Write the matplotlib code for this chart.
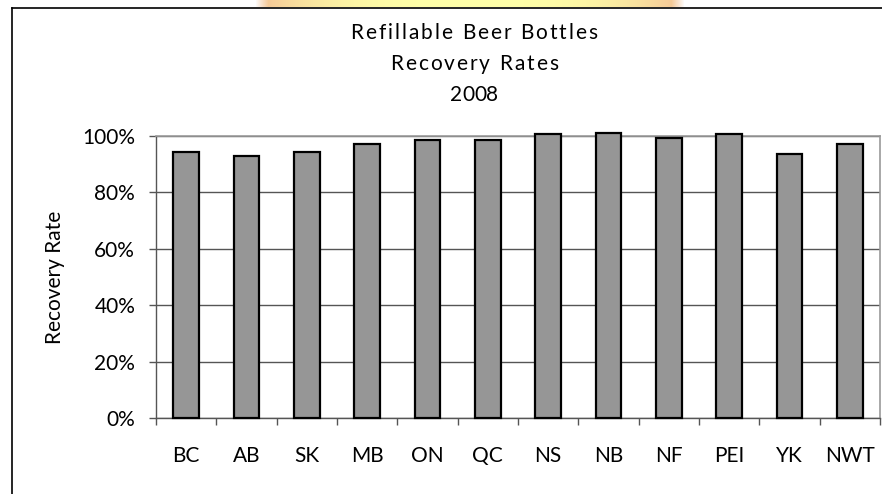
import numpy as np
import matplotlib
matplotlib.use('Agg')
import matplotlib.pyplot as plt
from matplotlib.lines import Line2D
from matplotlib.ticker import PercentFormatter

plt.rcParams['font.family'] = ['Lato', 'DejaVu Sans']

# data
provinces = ['BC', 'AB', 'SK', 'MB', 'ON', 'QC', 'NS', 'NB', 'NF', 'PEI', 'YK', 'NWT']
recovery = [0.944, 0.929, 0.944, 0.973, 0.986, 0.986, 1.007, 1.012, 0.993, 1.007, 0.937, 0.973]
yticks = [0, 0.2, 0.4, 0.6, 0.8, 1.0]
title_lines = ['Refillable Beer Bottles', 'Recovery Rates', '2008']
title_spacing = [2.0, 2.0, 0.0]  # extra px between letters, like the original

W, H = 882, 494
fig = plt.figure(figsize=(W / 100, H / 100), dpi=100)

# blurred banner at the very top
bx = fig.add_axes([255 / W, 1 - 7 / H, (685 - 255) / W, 7 / H])
g = np.linspace(-1, 1, 400)
w = np.clip(np.abs(g) ** 3, 0, 1)
c_edge = np.array([0.95, 0.75, 0.58])
c_mid = np.array([1.0, 1.0, 0.66])
col = c_mid[None, :] * (1 - w[:, None]) + c_edge[None, :] * w[:, None]
fade = np.clip((1 - np.abs(g)) / 0.06, 0, 1)[:, None]
col = col * fade + (1 - fade)
bx.imshow(col[None, :, :], aspect='auto', extent=[0, 1, 0, 1])
bx.axis('off')

# outer chart border
fig.add_artist(Line2D([12 / W, 12 / W], [0, 1 - 8 / H], color='black', lw=1.2, transform=fig.transFigure))
fig.add_artist(Line2D([12 / W, 1], [1 - 8 / H, 1 - 8 / H], color='black', lw=1.2, transform=fig.transFigure))

ax = fig.add_axes([156 / W, 76 / H, (880 - 156) / W, (418 - 136) / H])
x = np.arange(len(provinces))
ax.bar(x, recovery, width=0.43, color='#969696', edgecolor='black', linewidth=1.6, zorder=3, clip_on=False)

ax.set_xlim(-0.5, len(provinces) - 0.5)
ax.set_ylim(0, 1.0)
ax.set_yticks(yticks)
ax.yaxis.set_major_formatter(PercentFormatter(1.0, decimals=0))
ax.grid(axis='y', color='#555555', linewidth=1.0, zorder=0)
ax.tick_params(axis='y', direction='out', length=5, width=1, color='#555555', pad=10, labelsize=15)

ax.set_xticks(np.arange(-0.5, len(provinces), 1.0))
ax.set_xticklabels([])
ax.tick_params(axis='x', which='major', direction='out', length=5, width=1, color='#555555')
ax.set_xticks(x, minor=True)
ax.set_xticklabels(provinces, minor=True)
ax.tick_params(axis='x', which='minor', length=0, pad=20, labelsize=15)

for s in ['top', 'right']:
    ax.spines[s].set_color('#9a9a9a')
    ax.spines[s].set_linewidth(1.2)
for s in ['left', 'bottom']:
    ax.spines[s].set_color('#555555')
    ax.spines[s].set_linewidth(1.0)

ax.set_ylabel('Recovery Rate', fontsize=15, labelpad=12)

# title, letter by letter so the spacing can be widened
renderer = fig.canvas.get_renderer()
cx = 474
for i, line in enumerate(title_lines):
    y = 1 - (33 + 31 * i) / H
    sp = title_spacing[i]
    probe = fig.text(0, 0, line, fontsize=15)
    full = probe.get_window_extent(renderer).width
    probe.remove()
    total = full + sp * (len(line) - 1)
    left = cx - total / 2
    for j, ch in enumerate(line):
        if j > 0:
            p = fig.text(0, 0, line[:j] + '|', fontsize=15)
            q = fig.text(0, 0, '|', fontsize=15)
            off = p.get_window_extent(renderer).width - q.get_window_extent(renderer).width
            p.remove()
            q.remove()
        else:
            off = 0
        if ch != ' ':
            fig.text((left + off + sp * j) / W, y, ch, ha='left', va='center', fontsize=15)

fig.savefig('out.png', dpi=100)
